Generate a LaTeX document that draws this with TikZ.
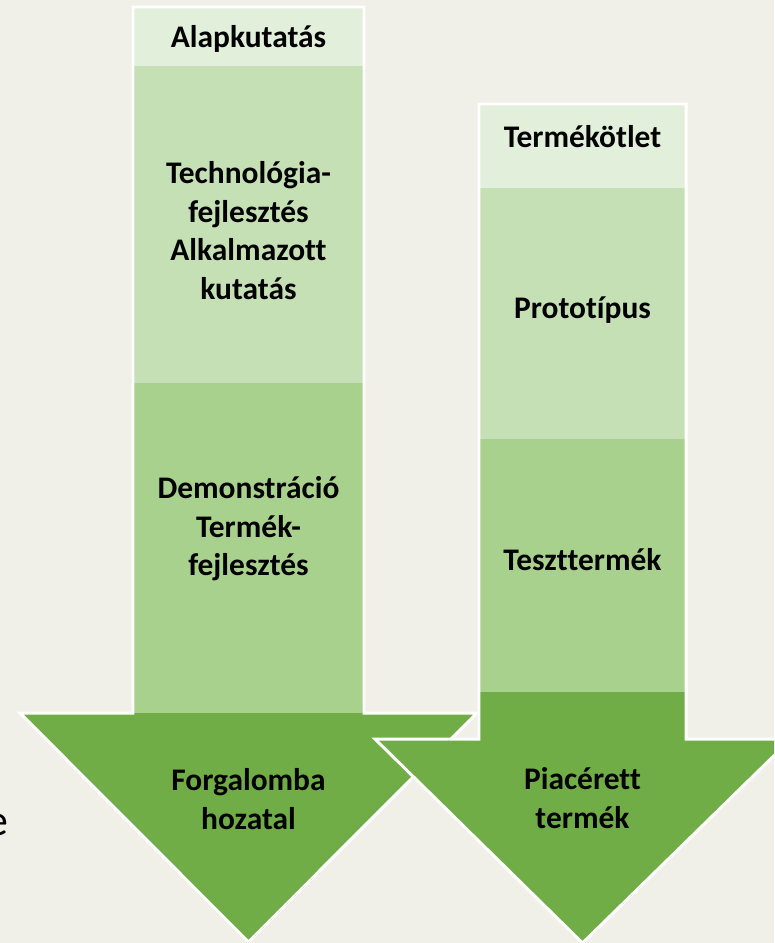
\documentclass[tikz,border=0pt]{standalone}
\usepackage{fontspec}
\setmainfont{Carlito}[Ligatures=NoCommon]
\usepackage{xcolor}
\definecolor{slidebg}{RGB}{240,239,232}
\definecolor{paleleaf}{RGB}{226,239,218}
\definecolor{lightleaf}{RGB}{197,224,180}
\definecolor{midleaf}{RGB}{169,209,142}
\definecolor{darkleaf}{RGB}{112,173,71}
\tikzstyle{stagetext}=[font=\bfseries\fontsize{17.9}{21.9}\selectfont,align=center,inner sep=0]
\tikzstyle{edgetext}=[font=\fontsize{25}{30}\selectfont,inner sep=0]
\tikzstyle{arrowrim}=[draw=white,line width=1.7pt,line join=miter]

\begin{document}
\begin{tikzpicture}[x=0.5693pt,y=-0.5693pt]
  \fill[slidebg] (0,0) rectangle (774,943);
  \useasboundingbox (0,0) rectangle (774,943);
  \clip (0,0) rectangle (774,943);

  % CUT TEXT AT THE EDGE
  \node[edgetext,anchor=base east] (cutA) at (2,317) {t};
  \node[edgetext,anchor=base east] (cutB) at (2,488) {t};
  \node[edgetext,anchor=base east] (cutC) at (9,835) {e};

  \coordinate (L1) at (133,7);    % LEFT ARROW
  \coordinate (L2) at (364,7);
  \coordinate (L3) at (364,713);
  \coordinate (L4) at (477,713);
  \coordinate (L5) at (248.5,942); % tip
  \coordinate (L6) at (20,713);
  \coordinate (L7) at (133,713);
  \coordinate (R1) at (479,104);  % RIGHT ARROW
  \coordinate (R2) at (686,104);
  \coordinate (R3) at (686,739);
  \coordinate (R4) at (791,739);
  \coordinate (R5) at (582.5,943); % tip
  \coordinate (R6) at (375,739);
  \coordinate (R7) at (479,739);

  % LEFT ARROW
  \fill[darkleaf] (L1) -- (L2) -- (L3) -- (L4) -- (L5) -- (L6) -- (L7) -- cycle;
  \fill[paleleaf] (L1) rectangle (364,66);
  \fill[lightleaf] (133,66) rectangle (364,383);
  \fill[midleaf] (133,383) rectangle (L3);
  \draw[arrowrim] (L1) -- (L2) -- (L3) -- (L4) -- (L5) -- (L6) -- (L7) -- cycle;

  % RIGHT ARROW
  \fill[darkleaf] (R1) -- (R2) -- (R3) -- (R4) -- (R5) -- (R6) -- (R7) -- cycle;
  \fill[paleleaf] (R1) rectangle (686,188);
  \fill[lightleaf] (479,188) rectangle (686,439);
  \fill[midleaf] (479,439) rectangle (686,692);
  \draw[arrowrim] (R1) -- (R2) -- (R3) -- (R4) -- (R5) -- (R6) -- (R7) -- cycle;

  % STAGES
  \node[stagetext] (alap) at (248.5,39) {Alapkutatás};
  \node[stagetext] (techn) at (248.5,230.5) {Technológia-\\fejlesztés\\Alkalmazott\\kutatás};
  \node[stagetext] (demo) at (248.5,529) {Demonstráció\\Termék-\\fejlesztés};
  \node[stagetext] (forg) at (248.5,799) {Forgalomba\\hozatal};
  \node[stagetext] (otlet) at (582.5,137) {Termékötlet};
  \node[stagetext] (proto) at (582.5,310) {Prototípus};
  \node[stagetext] (teszt) at (582.5,560) {Teszttermék};
  \node[stagetext] (piac) at (582.5,798) {Piacérett\\termék};
\end{tikzpicture}
\end{document}
